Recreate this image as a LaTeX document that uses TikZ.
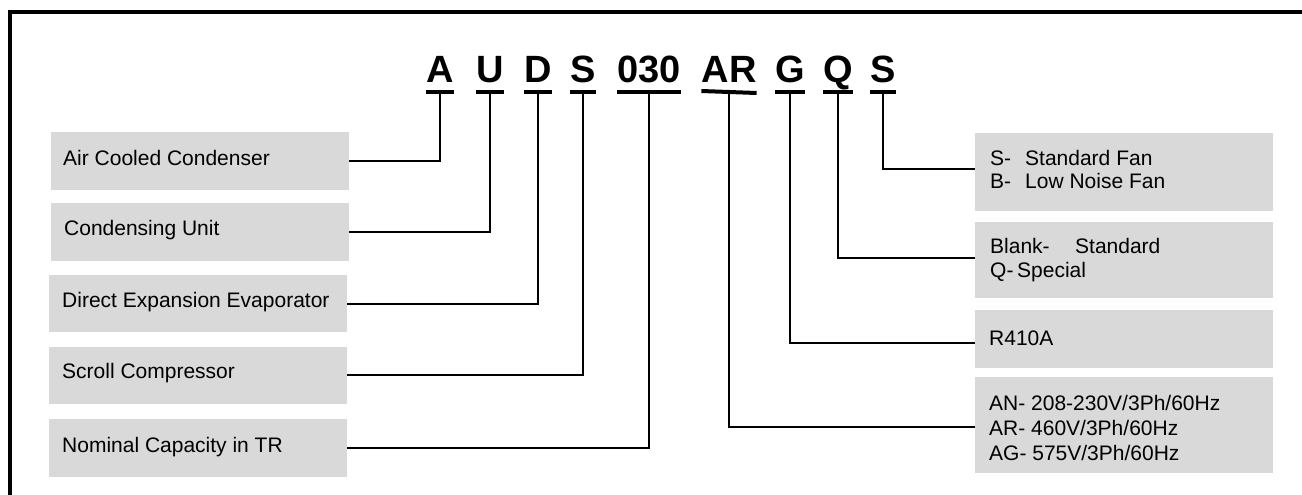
\documentclass[tikz,border=0pt]{standalone}
\usepackage{fontspec}
\setmainfont{Liberation Sans}
\definecolor{boxgray}{RGB}{217,217,217}
\begin{document}
\begin{tikzpicture}[x=1pt,y=-1pt,
  code/.style={font=\fontsize{38}{40}\selectfont\bfseries, anchor=base, inner sep=0pt},
  bar/.style={line width=4pt},
  lead/.style={line width=1.8pt},
  infobox/.style={fill=boxgray, draw=none, anchor=north west, minimum width=298pt, inner sep=0pt},
  info/.style={font=\fontsize{21}{24}\selectfont, anchor=base west, inner sep=0pt},
  edge/.style={line width=4pt}]
\useasboundingbox (0,0) rectangle (1302,495);

% frame: top and left edges only
\coordinate (fTR) at (1302,12);
\coordinate (fTL) at (10,12);
\coordinate (fBL) at (10,495);
\draw[edge] (fTR) -- (8,12) (fTL) -- (fBL);

% model code letters
\node[code] (cA)  at (440,83) {A};
\node[code] (cU)  at (490,83) {U};
\node[code] (cD)  at (538,83) {D};
\node[code] (cS)  at (583,83) {S};
\node[code] (cN)  at (649,83) {030};
\node[code] (cAR) at (729,83) {AR};
\node[code] (cG)  at (790,83) {G};
\node[code] (cQ)  at (838,83) {Q};
\node[code] (cF)  at (883,83) {S};

% underlines and their tap points
\foreach \n in {cA,cU,cD,cS,cN,cG,cQ,cF}{
  \draw[bar] ([yshift=-9pt]\n.base west) -- ([yshift=-9pt]\n.base east);
  \coordinate (t\n) at ([yshift=-9pt]\n.base);
}
\draw[bar] ([yshift=-8pt]cAR.base west) -- ([yshift=-10pt]cAR.base east);
\coordinate (tcAR) at ([yshift=-9pt]cAR.base);

% left description boxes
\node[infobox, minimum height=58pt] (bA) at (51,132) {};
\node[infobox, minimum height=58pt] (bU) at (51,203) {};
\node[infobox, minimum height=57pt] (bD) at (49,275) {};
\node[infobox, minimum height=57pt] (bS) at (49,347) {};
\node[infobox, minimum height=58pt] (bN) at (49,419) {};

\node[info] (lA) at (63,165) {Air Cooled Condenser};
\node[info] (lU) at (64,235) {Condensing Unit};
\node[info] (lD) at (62,307) {Direct Expansion Evaporator};
\node[info] (lS) at (62,378) {Scroll Compressor};
\node[info] (lN) at (62,452) {Nominal Capacity in TR};

% right description boxes
\node[infobox, minimum height=78pt] (bF)  at (975,133) {};
\node[infobox, minimum height=76pt] (bQ)  at (975,222) {};
\node[infobox, minimum height=58pt] (bG)  at (975,310) {};
\node[infobox, minimum height=96pt] (bAR) at (975,377) {};

\node[info] (rF1) at (990,165) {\makebox[35pt][l]{S-}Standard Fan};
\node[info] (rF2) at (990,188) {\makebox[35pt][l]{B-}Low Noise Fan};
\node[info] (rQ1) at (990,253) {\makebox[85pt][l]{Blank-}Standard};
\node[info] (rQ2) at (990,277) {\makebox[27pt][l]{Q-}Special};
\node[info] (rG)  at (989,345) {R410A};
\node[info] (rV1) at (989,410) {AN- 208-230V/3Ph/60Hz};
\node[info] (rV2) at (989,435) {AR- 460V/3Ph/60Hz};
\node[info] (rV3) at (989,460) {AG- 575V/3Ph/60Hz};

% leaders
\draw[lead] (tcA) |- (bA.east);
\draw[lead] (tcU) |- (bU.east);
\draw[lead] (tcD) |- (bD.east);
\draw[lead] (tcS) |- ([yshift=1pt]bS.east);
\draw[lead] (tcN) |- (bN.east);
\draw[lead] (tcAR) |- ([yshift=-2pt]bAR.west);
\draw[lead] (tcG) |- ([yshift=-4pt]bG.west);
\draw[lead] (tcQ) |- ([yshift=2pt]bQ.west);
\draw[lead] (tcF) |- ([yshift=3pt]bF.west);
\end{tikzpicture}
\end{document}
